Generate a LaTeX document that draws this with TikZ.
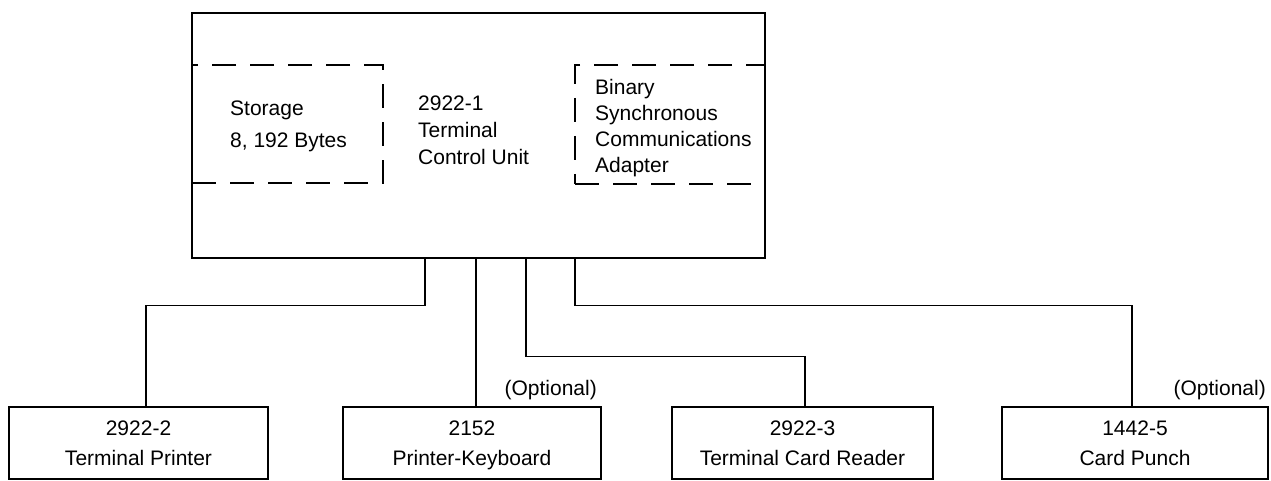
\documentclass[tikz,border=0pt]{standalone}
\usepackage{fontspec}
\setmainfont{Liberation Sans}
\begin{document}
\begin{tikzpicture}[x=1pt,y=-1pt,
  unit/.style={draw,line width=2.8pt,minimum width=573pt,minimum height=245pt},
  part/.style={draw,line width=2pt,dash pattern=on 24pt off 14pt,inner sep=0pt},
  dev/.style={draw,line width=2.8pt,minimum height=72pt,align=center,
    font=\fontsize{21}{30}\selectfont},
  lbl/.style={inner sep=0pt,font=\fontsize{21}{27}\selectfont},
  wire/.style={line width=1.8pt}]
  \useasboundingbox (0,0) rectangle (1271,481);
  % control unit with its two parts
  \node[unit] (tcu) at (478.5,135.5) {};
  \node[part,minimum width=191pt,minimum height=118pt] (stor) at (287.5,124) {};
  \node[part,minimum width=190pt,minimum height=119pt] (bsca) at (670,124.5) {};
  \node[lbl,anchor=west,align=left,font=\fontsize{21}{32}\selectfont] (stortxt) at (230,126) {Storage\\8, 192 Bytes};
  \node[lbl,anchor=west,align=left,font=\fontsize{21}{26}\selectfont] (bscatxt) at (595,128.5) {Binary\\Synchronous\\Communications\\Adapter};
  \node[lbl,anchor=west,align=left] (tcutxt) at (418,130) {2922-1\\Terminal\\Control Unit};
  % attached devices
  \node[dev,minimum width=259pt] (prt) at (138.5,443) {2922-2\\Terminal Printer};
  \node[dev,minimum width=258pt] (kbd) at (472,443) {2152\\Printer-Ke\smash{y}board};
  \node[dev,minimum width=261pt] (rdr) at (802.5,443) {2922-3\\Terminal Card Reader};
  \node[dev,minimum width=266pt] (pch) at (1135,443) {1442-5\\Card Punch};
  \node[lbl,anchor=east] (opt1) at (597,390) {(Optional)};
  \node[lbl,anchor=east] (opt2) at (1266,390) {(Optional)};
  % cables
  \draw[wire] ([xshift=-53.5pt]tcu.south) -- ++(0,46) -| ([xshift=7.5pt]prt.north);
  \draw[wire] ([xshift=-2.5pt]tcu.south) -- ([xshift=4pt]kbd.north);
  \draw[wire] ([xshift=47.5pt]tcu.south) -- ++(0,97) -| ([xshift=2.5pt]rdr.north);
  \draw[wire] ([xshift=96.5pt]tcu.south) -- ++(0,46) -| ([xshift=-3pt]pch.north);
\end{tikzpicture}
\end{document}
